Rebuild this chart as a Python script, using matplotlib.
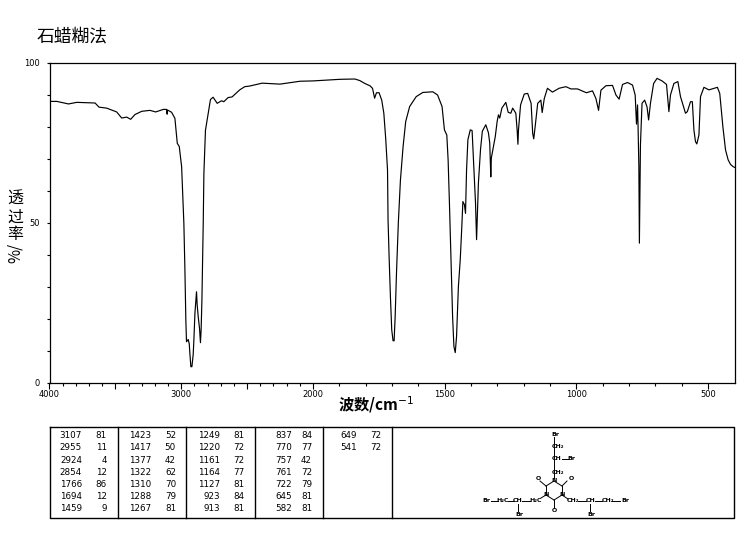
import numpy as np
import matplotlib
matplotlib.use("Agg")
import matplotlib.pyplot as plt

plt.rcParams['font.family'] = ['Noto Sans CJK SC', 'DejaVu Sans']

wavenumber = [4000, 3944, 3856, 3793, 3654, 3624, 3566, 3490, 3452, 3414, 3384, 3351, 3300, 3237, 3194, 3136,
              3111, 3107, 3104, 3073, 3048, 3030, 3015, 2997, 2990, 2980, 2972, 2965, 2960, 2947, 2939, 2934,
              2927, 2919, 2909, 2904, 2896, 2884, 2879, 2871, 2861, 2854, 2849, 2843, 2833, 2828, 2816, 2795,
              2778, 2758, 2727, 2694, 2677, 2644, 2614, 2556, 2518, 2480, 2386, 2250, 2098, 2000, 1898, 1841,
              1822, 1803, 1784, 1774, 1766, 1759, 1749, 1739, 1731, 1724, 1717, 1715, 1711, 1706, 1701, 1696,
              1692, 1688, 1683, 1676, 1668, 1658, 1648, 1633, 1608, 1583, 1545, 1527, 1510, 1501, 1492, 1487,
              1482, 1476, 1470, 1465, 1460, 1455, 1448, 1441, 1435, 1431, 1425, 1421, 1417, 1412, 1403, 1396,
              1390, 1383, 1379, 1372, 1364, 1357, 1344, 1334, 1329, 1325, 1323, 1316, 1308, 1301, 1296, 1291,
              1283, 1268, 1259, 1249, 1242, 1230, 1225, 1222, 1220, 1212, 1198, 1185, 1172, 1166, 1162, 1156,
              1147, 1135, 1130, 1122, 1110, 1091, 1066, 1040, 1021, 996, 962, 939, 926, 916, 907, 888,
              863, 850, 838, 825, 806, 787, 777, 772, 768, 766, 763, 761, 757, 751, 741, 732,
              726, 719, 707, 694, 675, 658, 653, 649, 643, 630, 615, 605, 586, 579, 567, 560,
              554, 548, 543, 535, 529, 516, 497, 465, 456, 444, 434, 424, 415, 405, 400]
transmittance = [88, 88, 87.2, 87.7, 87.5, 86.2, 85.9, 84.7, 82.8, 83.1, 82.4, 83.9, 84.9, 85.2, 84.7, 85.5,
                 85.5, 84, 85.3, 84.6, 82.7, 74.9, 73.9, 67.6, 60.3, 49.9, 35.3, 19.7, 12.9, 13.6, 12.2, 9,
                 5.1, 5.1, 9, 13.4, 21.8, 28.5, 24.4, 20.7, 17, 12.6, 16.6, 25.9, 49.9, 65.5, 79, 84.3,
                 88.6, 89.3, 87.4, 88.2, 87.9, 89.2, 89.4, 91.6, 92.6, 92.8, 93.7, 93.4, 94.3, 94.4, 94.9, 95,
                 94.5, 93.6, 92.9, 92.1, 89, 90.7, 90.7, 88.4, 84.3, 76.5, 66.6, 51, 39.5, 27, 16.6, 13.2,
                 13.2, 20.7, 34.3, 50, 63.4, 73.8, 81.7, 86.4, 89.5, 90.8, 91, 90, 86.4, 79.1, 77.5, 69.7,
                 56.2, 38.5, 20.7, 11.4, 9.5, 14.5, 30.1, 38.5, 48.9, 56.7, 55.7, 53, 66.6, 76, 79.1, 78.9,
                 68.7, 56.2, 44.8, 62.5, 73, 78.7, 80.7, 78.2, 75, 64.4, 70.3, 73.4, 77, 81.7, 83.8, 82.8,
                 85.9, 87.7, 84.6, 84.3, 85.9, 84.3, 79, 74.6, 79, 86.9, 90.3, 90.5, 87.4, 78, 76.3, 80.6,
                 87.4, 88.4, 84.5, 88.9, 92.1, 90.9, 92.1, 92.6, 91.9, 91.9, 90.7, 91.3, 88.9, 85.2, 91.5, 92.9,
                 93, 90, 88.7, 93.3, 93.9, 93.1, 90, 80.9, 86.9, 80, 67.6, 43.7, 74.4, 87.4, 88.4, 86.3,
                 82.2, 87.4, 93.6, 95.2, 94.4, 93.3, 88.4, 84.8, 90, 93.6, 94.2, 89.5, 84.3, 84.8, 87.9, 87.9,
                 79, 75.4, 74.7, 77.5, 89.5, 92.4, 91.6, 92.4, 90.5, 80, 72.8, 69.7, 68.3, 67.6, 67.4]

peak_wn = [["3107", "2955", "2924", "2854", "1766", "1694", "1459"],
           ["1423", "1417", "1377", "1322", "1310", "1288", "1267"],
           ["1249", "1220", "1161", "1164", "1127", "923", "913"],
           ["837", "770", "757", "761", "722", "645", "582"],
           ["649", "541"]]
peak_t = [["81", "11", "4", "12", "86", "12", "9"],
          ["52", "50", "42", "62", "70", "79", "81"],
          ["81", "72", "72", "77", "81", "84", "81"],
          ["84", "77", "42", "72", "79", "81", "81"],
          ["72", "72"]]

W, H = 743, 539
fig = plt.figure(figsize=(W / 100, H / 100), dpi=100)


# the spectrometer plot doubles its scale below 2000 cm-1
def fwd(w):
    w = np.asarray(w, dtype=float)
    return np.where(w <= 2000, 2 * w, w + 2000)


def inv(u):
    u = np.asarray(u, dtype=float)
    return np.where(u <= 4000, u / 2, u - 2000)


ax = fig.add_axes([49.5 / W, 1 - 383 / H, 685 / W, 320 / H])
ax.set_xscale('function', functions=(fwd, inv))
ax.plot(wavenumber, transmittance, color='black', lw=0.85)
ax.set_xlim(4000, 400)
ax.set_ylim(0, 100)
ax.set_xticks([4000, 3500, 3000, 2500, 2000, 1500, 1000, 500])
ax.set_xticklabels(['4000', '', '3000', '', '2000', '1500', '1000', '500'])
ax.set_xticks([w for w in range(500, 4000, 100) if w % 500 != 0], minor=True)
ax.set_yticks([0, 50, 100])
ax.set_yticks(range(10, 100, 10), minor=True)
ax.tick_params(which='major', length=4, width=0.8, labelsize=6, pad=1)
ax.tick_params(which='minor', length=2, width=0.8)
ax.tick_params(axis='y', which='major', length=2, pad=5)
for lab in ax.get_xticklabels() + ax.get_yticklabels():
    lab.set_fontfamily('DejaVu Sans')
for s in ax.spines.values():
    s.set_linewidth(0.9)

# overlay in pixel coordinates for the texts, the peak table and the structure
ov = fig.add_axes([0, 0, 1, 1])
ov.set_xlim(0, W)
ov.set_ylim(H, 0)
ov.axis('off')
ov.patch.set_alpha(0)

ov.text(37, 36, '石蜡糊法', fontsize=12.8, ha='left', va='center')
ov.text(376, 405, '波数/cm$^{-1}$', fontsize=11, ha='center', va='center', fontweight='bold')
for ch, y in zip('透过率', [199.5, 217.5, 235]):
    ov.text(15, y, ch, fontsize=11.5, ha='center', va='center')
ov.text(15, 253, '%/', fontsize=11, ha='center', va='center', rotation=90)

# peak table
ov.plot([49.5, 734, 734, 49.5, 49.5], [426.5, 426.5, 518, 518, 426.5], color='black', lw=1)
for x in [118, 186, 255, 323, 392]:
    ov.plot([x, x], [426.5, 518], color='black', lw=1)
wn_right = [82, 151, 220, 292, 357]
t_right = [107, 176, 244, 312, 381]
for c in range(len(peak_wn)):
    for r in range(len(peak_wn[c])):
        y = 435.7 + r * 12.2
        ov.text(wn_right[c], y, peak_wn[c][r], fontsize=6.3, ha='right', va='center', family='DejaVu Sans')
        ov.text(t_right[c], y, peak_t[c][r], fontsize=6.3, ha='right', va='center', family='DejaVu Sans')


# structure, positions in pixels of the reference
def atom(x, y, s):
    ov.text(x, y, s, fontsize=4.5, ha='center', va='center', family='DejaVu Sans', fontweight='bold')


def bond(x0, y0, x1, y1):
    ov.plot([x0, x1], [y0, y1], color='black', lw=0.7)


bond(553.5, 437, 553.5, 478)
bond(562, 459, 568, 459)
atom(555, 434, 'Br')
atom(558, 446, 'CH₂')
atom(557, 459, 'CH')
atom(571, 459, 'Br')
atom(558, 472, 'CH₂')

ring = [(554, 481), (546, 486), (546, 495), (554, 500), (562, 495), (562, 486), (554, 481)]
for a, b in zip(ring[:-1], ring[1:]):
    bond(a[0], a[1], b[0], b[1])
atom(554, 481, 'N')
atom(546, 495, 'N')
atom(562, 495, 'N')
bond(546, 486, 540, 481)
bond(562, 486, 567, 481)
bond(554, 500, 554, 508)
atom(538, 479, 'O')
atom(571, 479, 'O')
atom(554, 510, 'O')

bond(491, 501, 498, 501)
bond(508, 501, 514, 501)
bond(522, 501, 530, 501)
bond(541, 498, 546, 495)
bond(562, 495, 568, 499)
bond(578, 501, 586, 501)
bond(595, 501, 602, 501)
bond(612, 501, 620, 501)
bond(518, 504, 518, 511)
bond(590, 504, 590, 511)
atom(486, 501, 'Br')
atom(503, 501, 'H₂C')
atom(518, 501, 'CH')
atom(536, 501, 'H₂C')
atom(573, 501, 'CH₂')
atom(591, 501, 'CH')
atom(608, 501, 'CH₂')
atom(625, 501, 'Br')
atom(519, 514, 'Br')
atom(591, 514, 'Br')

fig.savefig('out.png', dpi=100)
